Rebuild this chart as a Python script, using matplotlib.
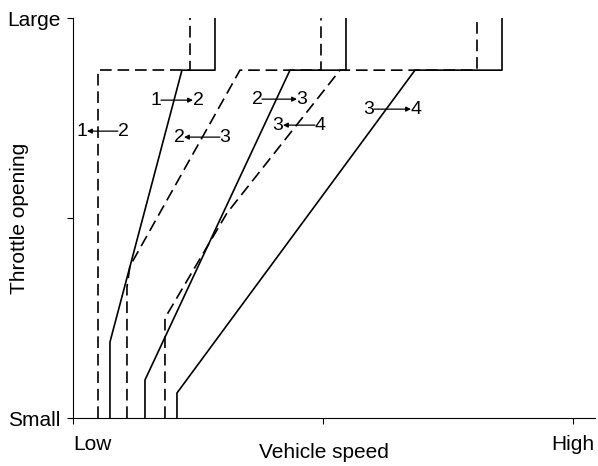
import matplotlib.pyplot as plt

plt.rcParams['font.family'] = ['Liberation Sans', 'DejaVu Sans']

# shift lines, (speed, throttle) in axis units 0..1
down_2_1_x = [0.05, 0.05, 0.234, 0.234]
down_2_1_y = [0.0, 0.87, 0.87, 1.0]
up_1_2_x = [0.074, 0.074, 0.218, 0.284, 0.284]
up_1_2_y = [0.0, 0.19, 0.87, 0.87, 1.0]
down_3_2_x = [0.108, 0.108, 0.114, 0.334, 0.496, 0.496]
down_3_2_y = [0.0, 0.3275, 0.38, 0.87, 0.87, 1.0]
up_2_3_x = [0.144, 0.144, 0.434, 0.546, 0.546]
up_2_3_y = [0.0, 0.095, 0.87, 0.87, 1.0]
down_4_3_x = [0.184, 0.184, 0.308, 0.534, 0.808, 0.808]
down_4_3_y = [0.0, 0.25, 0.5125, 0.87, 0.87, 1.0]
up_3_4_x = [0.208, 0.208, 0.684, 0.858, 0.858]
up_3_4_y = [0.0, 0.0625, 0.87, 0.87, 1.0]

# labels: (left digit, right digit, x left, x right, y, arrow points right?)
shift_labels = [
    ("1", "2", 0.018, 0.1, 0.7175, False),
    ("1", "2", 0.166, 0.25, 0.795, True),
    ("2", "3", 0.212, 0.304, 0.7025, False),
    ("2", "3", 0.368, 0.458, 0.7975, True),
    ("3", "4", 0.41, 0.494, 0.7325, False),
    ("3", "4", 0.592, 0.686, 0.7725, True),
]

fig = plt.figure(figsize=(5.98, 4.66), dpi=100)
ax = fig.add_axes([0.122, 0.103, 0.873, 0.858])

dash = (7, 3.5)
ax.plot(down_2_1_x, down_2_1_y, color='black', lw=1.2, dashes=dash)
ax.plot(up_1_2_x, up_1_2_y, color='black', lw=1.2)
ax.plot(down_3_2_x, down_3_2_y, color='black', lw=1.2, dashes=dash)
ax.plot(up_2_3_x, up_2_3_y, color='black', lw=1.2)
ax.plot(down_4_3_x, down_4_3_y, color='black', lw=1.2, dashes=dash)
ax.plot(up_3_4_x, up_3_4_y, color='black', lw=1.2)

for a, b, xl, xr, y, right in shift_labels:
    ax.text(xl, y, a, fontsize=14, ha='center', va='center')
    ax.text(xr, y, b, fontsize=14, ha='center', va='center')
    x0, x1 = xl + 0.01, xr - 0.01
    if right:
        start, end = x0, x1
    else:
        start, end = x1, x0
    ax.annotate("", xy=(end, y), xytext=(start, y),
                arrowprops=dict(arrowstyle='-|>', color='black', lw=0.9,
                                mutation_scale=7, shrinkA=0, shrinkB=0))

ax.set_xlim(0, 1.044)
ax.set_ylim(0, 1)
ax.spines['top'].set_visible(False)
ax.spines['right'].set_visible(False)

ax.set_xticks([0, 0.5, 1])
ax.set_xticklabels(['Low', '', 'High'], fontsize=15)
ax.get_xticklabels()[0].set_horizontalalignment('left')
ax.set_yticks([0, 0.5, 1])
ax.set_yticklabels(['Small', '', 'Large'], fontsize=15)
ax.tick_params(axis='x', length=4, pad=8)
ax.tick_params(axis='y', length=4, pad=5)

ax.set_xlabel("Vehicle speed", fontsize=15)
ax.xaxis.set_label_coords(0.48, -0.062)
ax.set_ylabel("Throttle opening", fontsize=15)
ax.yaxis.set_label_coords(-0.085, 0.5)

plt.savefig("out.png", dpi=100)
